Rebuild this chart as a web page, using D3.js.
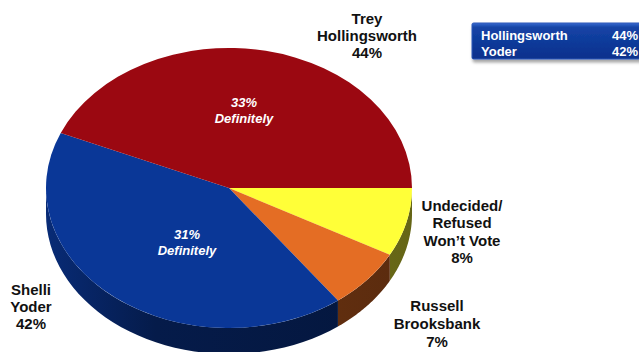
<!DOCTYPE html>
<html>
<head>
<meta charset="utf-8">
<script src="https://cdn.jsdelivr.net/npm/d3@7"></script>
<style>
  body { margin: 0; background: #fff; }
  svg { display: block; font-family: Arial, "Liberation Sans", Helvetica, sans-serif; }
</style>
</head>
<body>
<div id="chart"></div>
<script>
// Slices in clockwise order, starting at 3 o'clock
const candidates = ["Undecided/ Refused Won't Vote", "Russell Brooksbank", "Shelli Yoder", "Trey Hollingsworth"];
const shares = [8, 7, 42, 44];
const sliceColors = ["#ffff38", "#e46d24", "#0a3797", "#9b0811"];
const labelLines = [
    ["Undecided/", "Refused", "Won\u2019t Vote", "8%"],
    ["Russell", "Brooksbank", "7%"],
    ["Shelli", "Yoder", "42%"],
    ["Trey", "Hollingsworth", "44%"]
];
const definitelyShares = [null, null, 31, 33];

// Legend box (top right)
const legendNames = ["Hollingsworth", "Yoder"];
const legendValues = ["44%", "42%"];

const width = 639, height = 352;
const cx = 229, cy = 188, rx = 183, ry = 140, depth = 26;

const svg = d3.select("#chart").append("svg")
    .attr("width", width)
    .attr("height", height);

const defs = svg.append("defs");

const data = candidates.map((name, i) => ({
    name, value: shares[i], color: sliceColors[i], lines: labelLines[i], definitely: definitelyShares[i]
}));

const pie = d3.pie()
    .sort(null)
    .value(d => d.value)
    .startAngle(Math.PI / 2)
    .endAngle(Math.PI / 2 + 2 * Math.PI);

const arcs = pie(data);

// project an angle (0 = top, clockwise) onto the tilted ellipse
const px = a => cx + rx * Math.sin(a);
const py = a => cy - ry * Math.cos(a);

// side walls: only the front half (angles between pi/2 and 3pi/2) is visible
const sideGroup = svg.append("g");
arcs.forEach((d, i) => {
    const grad = defs.append("linearGradient")
        .attr("id", "side" + i)
        .attr("gradientUnits", "userSpaceOnUse")
        .attr("x1", cx - rx).attr("x2", cx + rx)
        .attr("y1", 0).attr("y2", 0);
    grad.append("stop").attr("offset", 0).attr("stop-color", d3.color(d.data.color).darker(0.7));
    grad.append("stop").attr("offset", 0.3).attr("stop-color", d3.color(d.data.color).darker(2));
    grad.append("stop").attr("offset", 1).attr("stop-color", d3.color(d.data.color).darker(2.6));

    const lo = Math.max(d.startAngle, Math.PI / 2), hi = Math.min(d.endAngle, 3 * Math.PI / 2);
    if (hi <= lo) return;
    const steps = d3.range(0, 41).map(k => lo + (hi - lo) * k / 40);
    const p = d3.path();
    steps.forEach((a, k) => k ? p.lineTo(px(a), py(a)) : p.moveTo(px(a), py(a)));
    steps.slice().reverse().forEach(a => p.lineTo(px(a), py(a) + depth));
    p.closePath();
    sideGroup.append("path")
        .attr("d", p.toString())
        .attr("fill", `url(#side${i})`);
});

// top faces: a flat d3 arc squashed into an ellipse
const arc = d3.arc().innerRadius(0).outerRadius(rx);
svg.append("g")
    .attr("transform", `translate(${cx},${cy}) scale(1,${ry / rx})`)
    .selectAll("path")
    .data(arcs)
    .enter()
    .append("path")
    .attr("d", arc)
    .attr("fill", d => d.data.color);

// "Definitely" labels inside the two big slices
const innerPos = [null, null, [187, 239], [244, 107]];
arcs.forEach((d, i) => {
    if (d.data.definitely == null) return;
    const t = svg.append("text")
        .attr("text-anchor", "middle")
        .attr("fill", "#fff")
        .style("font-weight", "bold")
        .style("font-style", "italic")
        .style("font-size", "13px");
    t.append("tspan").attr("x", innerPos[i][0]).attr("y", innerPos[i][1]).text(d.data.definitely + "%");
    t.append("tspan").attr("x", innerPos[i][0]).attr("y", innerPos[i][1] + 16).text("Definitely");
});

// outside labels
const outerPos = [[462, 211, 17.4], [437, 311, 18], [31, 295, 17], [367, 24, 17]];
arcs.forEach((d, i) => {
    const [x, y, lh] = outerPos[i];
    const t = svg.append("text")
        .attr("text-anchor", "middle")
        .attr("fill", "#111")
        .style("font-weight", "bold")
        .style("font-size", "15px");
    d.data.lines.forEach((line, k) => {
        t.append("tspan").attr("x", x).attr("y", y + k * lh).text(line);
    });
});

// legend box
const lg = defs.append("linearGradient").attr("id", "legendFill")
    .attr("x1", 0).attr("x2", 0).attr("y1", 0).attr("y2", 1);
lg.append("stop").attr("offset", 0).attr("stop-color", "#3a6ad0");
lg.append("stop").attr("offset", 0.12).attr("stop-color", "#1444a6");
lg.append("stop").attr("offset", 1).attr("stop-color", "#0a2f8c");

const shadow = defs.append("filter").attr("id", "shadow")
    .attr("x", "-10%").attr("y", "-10%").attr("width", "130%").attr("height", "160%");
shadow.append("feDropShadow")
    .attr("dx", 1).attr("dy", 3).attr("stdDeviation", 1.8)
    .attr("flood-color", "#000").attr("flood-opacity", 0.35);

svg.append("rect")
    .attr("x", 472).attr("y", 23)
    .attr("width", 180).attr("height", 36)
    .attr("rx", 1.5)
    .attr("fill", "url(#legendFill)")
    .attr("stroke", "#2c58b8")
    .attr("stroke-width", 1)
    .attr("filter", "url(#shadow)");

const legendRows = svg.append("g")
    .style("font-weight", "bold")
    .style("font-size", "13px")
    .attr("fill", "#fff");

legendNames.forEach((name, i) => {
    legendRows.append("text").attr("x", 481).attr("y", 40 + i * 16).text(name);
    legendRows.append("text").attr("x", 612).attr("y", 40 + i * 16).text(legendValues[i]);
});
</script>
</body>
</html>
